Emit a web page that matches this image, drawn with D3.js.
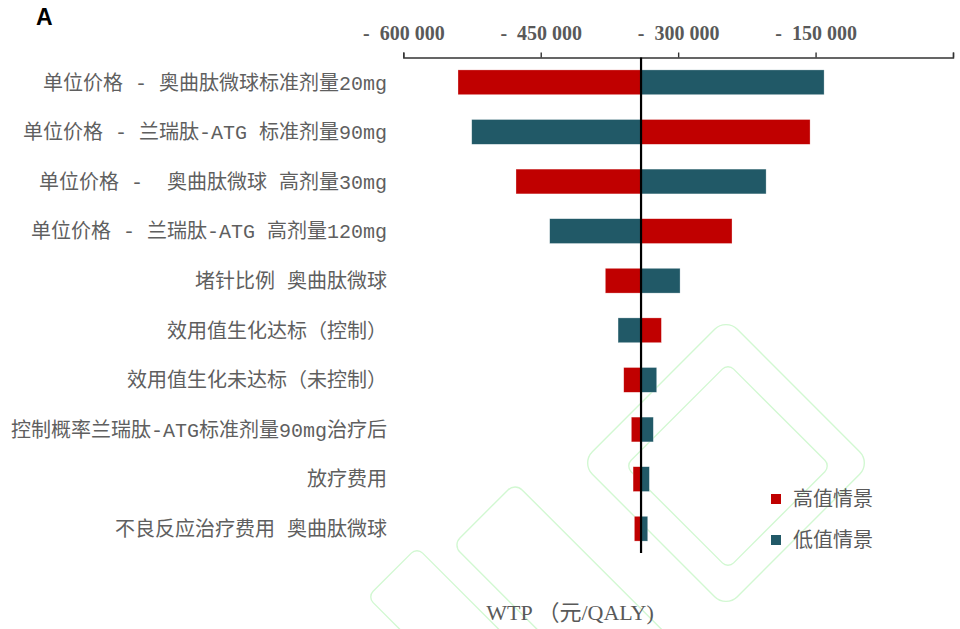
<!DOCTYPE html>
<html>
<head>
<meta charset="utf-8">
<script src="https://cdn.jsdelivr.net/npm/d3@7"></script>
<style>
  html, body { margin: 0; padding: 0; background: #fff; }
  svg { display: block; }
  text { white-space: pre; }
</style>
</head>
<body>
<script>
// ---------------- data ----------------
const categories = [
  "单位价格 - 奥曲肽微球标准剂量20mg",
  "单位价格 - 兰瑞肽-ATG 标准剂量90mg",
  "单位价格 -  奥曲肽微球 高剂量30mg",
  "单位价格 - 兰瑞肽-ATG 高剂量120mg",
  "堵针比例 奥曲肽微球",
  "效用值生化达标（控制）",
  "效用值生化未达标（未控制）",
  "控制概率兰瑞肽-ATG标准剂量90mg治疗后",
  "放疗费用",
  "不良反应治疗费用 奥曲肽微球"
];
const baseValue = -340500;
// 高值情景 (red)
const highValues = [-540300, -156000, -477000, -241200, -379500, -318300, -359400, -351100, -349200, -347800];
// 低值情景 (teal)
const lowValues  = [-140700, -525300, -204000, -440200, -297900, -365600, -323400, -327100, -331400, -333200];
const tickValues = [-600000, -450000, -300000, -150000, 0];
const tickLabels = ["-  600 000", "-  450 000", "-  300 000", "-  150 000", ""];
const seriesNames = ["高值情景", "低值情景"];
const seriesColors = ["#C00000", "#215967"];
const axisTitle = "WTP （元/QALY)";
const panelLabel = "A";

// ---------------- chart ----------------
const W = 960, H = 629;
const svg = d3.select("body").append("svg").attr("width", W).attr("height", H);

// faint watermark (decorative)
const wm = svg.append("g").attr("fill", "none").attr("stroke", "#d2f8d2").attr("stroke-width", 1.4);
[
  {cx: 726, cy: 463, w: 205, h: 205, r: 16},
  {cx: 728, cy: 466, w: 145, h: 145, r: 8},
  {cx: 590, cy: 620, w: 300, h: 88, r: 10},
  {cx: 470, cy: 650, w: 220, h: 70, r: 8}
].forEach(s => {
  wm.append("rect")
    .attr("x", -s.w / 2).attr("y", -s.h / 2)
    .attr("width", s.w).attr("height", s.h)
    .attr("rx", s.r)
    .attr("transform", `translate(${s.cx},${s.cy}) rotate(45)`);
});

const x = d3.scaleLinear().domain([-600000, 0]).range([403.3, 953]);
const y = d3.scaleBand().domain(categories).range([57.5, 553.5]).paddingInner(0.5).paddingOuter(0.25);

// axis on top
const axisG = svg.append("g")
  .attr("transform", "translate(0,57.5)")
  .call(d3.axisTop(x)
    .tickValues(tickValues)
    .tickSize(5)
    .tickSizeOuter(5)
    .tickPadding(12.5)
    .tickFormat((d, i) => tickLabels[i]));
axisG.select(".domain").attr("stroke", "#333").attr("stroke-width", 1.4);
axisG.selectAll(".tick line").attr("stroke", "#333").attr("stroke-width", 1.4);
axisG.selectAll(".tick text")
  .attr("font-family", "'Liberation Serif', 'Times New Roman', serif")
  .attr("font-weight", "bold")
  .attr("font-size", 20)
  .attr("fill", "#595959");

// bars
const rows = categories.map((c, i) => ({c, high: highValues[i], low: lowValues[i]}));
const barsG = svg.append("g");
[["high", 0], ["low", 1]].forEach(([key, si]) => {
  barsG.selectAll("rect." + key)
    .data(rows)
    .join("rect")
    .attr("class", key)
    .attr("x", d => x(Math.min(d[key], baseValue)))
    .attr("width", d => Math.abs(x(d[key]) - x(baseValue)))
    .attr("y", d => y(d.c))
    .attr("height", y.bandwidth())
    .attr("fill", seriesColors[si])
    .attr("stroke", "#ffffff")
    .attr("stroke-opacity", 0.5)
    .attr("stroke-width", 0.6);
});

// center line
svg.append("line")
  .attr("x1", x(baseValue)).attr("x2", x(baseValue))
  .attr("y1", 57.5).attr("y2", y.range()[1] - 0.5)
  .attr("stroke", "#000").attr("stroke-width", 2.2);

// category labels
svg.append("g").selectAll("text")
  .data(categories)
  .join("text")
  .attr("x", 387)
  .attr("y", d => y(d) + y.bandwidth() / 2)
  .attr("dy", "0.36em")
  .attr("text-anchor", "end")
  .attr("font-family", "'Liberation Mono', 'Noto Sans CJK SC', monospace")
  .attr("font-size", 20)
  .attr("fill", "#5f5f5f")
  .text(d => d);

// legend
const lg = svg.append("g").attr("transform", "translate(771,499)");
seriesNames.forEach((n, i) => {
  const g = lg.append("g").attr("transform", `translate(0,${i * 41})`);
  g.append("rect").attr("x", 0).attr("y", -5).attr("width", 10).attr("height", 10).attr("fill", seriesColors[i]);
  g.append("text").attr("x", 22).attr("y", 0).attr("dy", "0.36em")
    .attr("font-family", "'Noto Sans CJK SC', sans-serif")
    .attr("font-size", 20)
    .attr("fill", "#595959")
    .text(n);
});

// axis title
svg.append("text")
  .attr("x", 570).attr("y", 620)
  .attr("text-anchor", "middle")
  .attr("font-family", "'Liberation Serif', 'Noto Sans CJK SC', serif")
  .attr("font-size", 22)
  .attr("fill", "#595959")
  .text(axisTitle);

// panel label
svg.append("text")
  .attr("x", 36).attr("y", 25)
  .attr("font-family", "'Liberation Sans', Arial, sans-serif")
  .attr("font-weight", "bold")
  .attr("font-size", 23)
  .attr("fill", "#000")
  .text(panelLabel);
</script>
</body>
</html>
